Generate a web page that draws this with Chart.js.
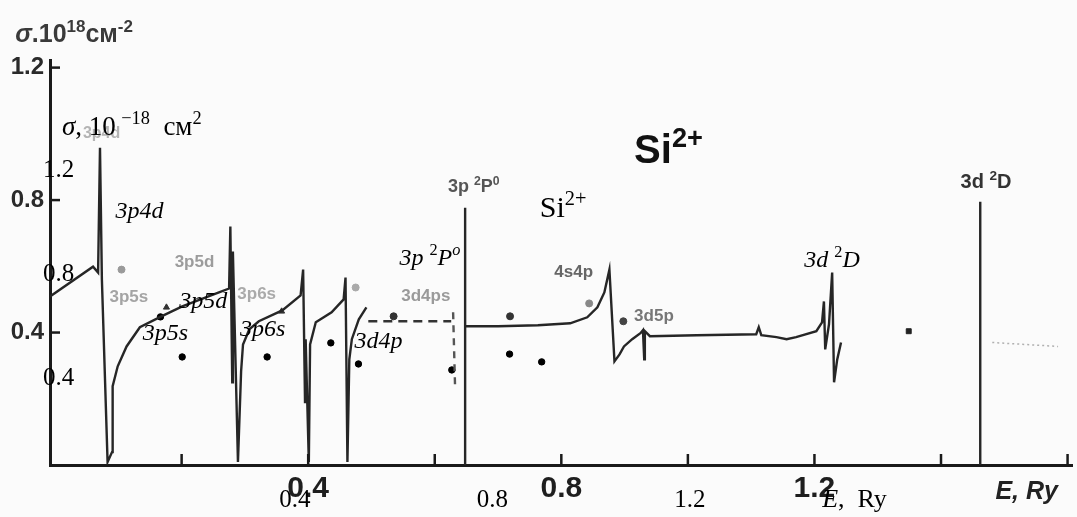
<!DOCTYPE html>
<html><head><meta charset="utf-8">
<script src="https://cdn.jsdelivr.net/npm/chart.js@4.4.0/dist/chart.umd.min.js"></script>
<style>html,body{margin:0;padding:0;background:#fbfbfb;}canvas{display:block}</style>
</head><body>
<canvas id="c" width="1077" height="517"></canvas>
<script>
// ---------- scanned spectrum: E (Ry) vs sigma (1e-18 cm^2) ----------
const curveE = [-0.008,0.060,0.068,0.071,0.074,0.083,0.090,0.091,0.099,0.113,0.134,0.168,0.201,0.259,0.275,0.277,0.280,0.281,0.289,0.294,0.297,0.307,0.322,0.359,0.388,0.392,0.395,0.396,0.401,0.403,0.412,0.437,0.456,0.459,0.462,0.465,0.469,0.480,0.492];
const curveSigma = [0.509,0.599,0.581,0.958,0.560,0.009,0.039,0.238,0.298,0.358,0.416,0.449,0.479,0.521,0.533,0.720,0.250,0.645,0.009,0.283,0.364,0.410,0.434,0.467,0.512,0.590,0.190,0.380,0.009,0.364,0.431,0.461,0.500,0.566,0.009,0.319,0.380,0.440,0.476];
const rightE = [0.648,0.700,0.763,0.814,0.841,0.857,0.868,0.876,0.884,0.892,0.899,0.912,0.925,0.929,0.931,0.932,0.940,1.014,1.108,1.112,1.116,1.140,1.156,1.171,1.203,1.212,1.215,1.217,1.223,1.228,1.231,1.236,1.242];
const rightSigma = [0.419,0.419,0.422,0.428,0.446,0.476,0.521,0.590,0.313,0.334,0.358,0.380,0.398,0.407,0.319,0.404,0.389,0.392,0.395,0.416,0.392,0.386,0.380,0.386,0.404,0.431,0.494,0.349,0.425,0.581,0.250,0.319,0.370];
const dashHE = [0.495,0.626];
const dashHSigma = [0.434,0.434];
const dashVE = [0.629,0.632];
const dashVSigma = [0.461,0.244];
const line3pE = [0.648,0.648];
const line3pSigma = [0.777,0];
const line3dE = [1.462,1.462];
const line3dSigma = [0.795,0];
const faintE = [1.481,1.585];
const faintSigma = [0.370,0.358];
const scanMarkE = [0.105,0.176,0.358,0.475,0.535,0.719,0.844,0.898,1.349];
const scanMarkSigma = [0.590,0.476,0.464,0.536,0.449,0.449,0.488,0.434,0.404];
const scanMarkColor = ['#9a9a9a','#333','#333','#aaa','#333','#333','#888','#444','#222'];
const scanMarkStyle = ['circle','triangle','triangle','circle','circle','circle','circle','circle','rect'];
// ---------- overlaid (second) coordinate system ----------
const dotE = [0.128,0.172,0.344,0.473,0.529,0.718,0.835,0.900];
const dotSigma = [0.635,0.481,0.481,0.535,0.454,0.431,0.492,0.462];
// ---------- ticks ----------
const xTickLabels = [0.4,0.8,1.2];
const yTickLabels = [0.4,0.8,1.2];
const xTickMarks = [0.2,0.4,0.6,0.8,1.0,1.2,1.4,1.6];
const yTickMarks = [0.4,0.8,1.2];
const overlayXTicks = [0.4,0.8,1.2];
const overlayYTicks = [0.4,0.8,1.2];

const scanLabels = [
  {runs:[['σ','i'],['.10',''],['18','s'],['см',''],['-2','s']], e:-0.063, s:1.277, size:25, color:'#3a3a3a'},
  {runs:[['3p4d','']], e:0.044, s:0.988, size:16, color:'#b4b4b4'},
  {runs:[['3p5d','']], e:0.189, s:0.599, size:17, color:'#9c9c9c'},
  {runs:[['3p5s','']], e:0.086, s:0.491, size:17, color:'#a4a4a4'},
  {runs:[['3p6s','']], e:0.288, s:0.500, size:17, color:'#aaaaaa'},
  {runs:[['3d4ps','']], e:0.547, s:0.494, size:17, color:'#9a9a9a'},
  {runs:[['3p ',''],['2','s'],['P',''],['0','s']], e:0.621, s:0.825, size:18, color:'#555'},
  {runs:[['4s4p','']], e:0.789, s:0.569, size:17, color:'#666'},
  {runs:[['3d5p','']], e:0.915, s:0.434, size:17, color:'#777'},
  {runs:[['3d ',''],['2','s'],['D','']], e:1.431, s:0.837, size:20, color:'#333'},
  {runs:[['Si',''],['2+','s']], e:0.915, s:0.913, size:40, color:'#111'},
  {runs:[['E, Ry','i']], e:1.486, s:-0.102, size:25, color:'#222'}
];
const overlayLabels = [
  {runs:[['σ','i'],[', 10',''],['\u2009',''],['−18','s'],['  см',''],['2','s']], e:-0.0715, s:1.335, size:27},
  {runs:[['3p4d','i']], e:0.037, s:1.015},
  {runs:[['3p5d','i']], e:0.166, s:0.669},
  {runs:[['3p5s','i']], e:0.092, s:0.546},
  {runs:[['3p6s','i']], e:0.289, s:0.562},
  {runs:[['3d4p','i']], e:0.521, s:0.515},
  {runs:[['3p ','i'],['2','s'],['P','i'],['o','si']], e:0.612, s:0.835},
  {runs:[['Si',''],['2+','s']], e:0.896, s:1.019, size:30},
  {runs:[['3d ','i'],['2','s'],['D','i']], e:1.432, s:0.827},
  {runs:[['E','i'],[',  Ry','']], e:1.468, s:-0.096, size:26}
];

const SANS = '"Liberation Sans", Arial, sans-serif';
const SERIF = '"Liberation Serif", "Times New Roman", serif';
const zip = (xs, ys) => xs.map((v, i) => ({x: v, y: ys[i]}));

function drawRuns(ctx, runs, x, y, size, family, weight, color) {
  let cx = x;
  ctx.fillStyle = color; ctx.textBaseline = 'alphabetic'; ctx.textAlign = 'left';
  for (const [t, f] of runs) {
    const sup = f.includes('s');
    const fs = sup ? size * 0.68 : size;
    ctx.font = (f.includes('i') ? 'italic ' : '') + weight + ' ' + fs + 'px ' + family;
    ctx.fillText(t, cx, sup ? y - size * 0.40 : y);
    cx += ctx.measureText(t).width;
  }
}

const decor = {
  id: 'decor',
  beforeDraw(chart) {
    const c = chart.ctx; c.save(); c.fillStyle = '#fbfbfb'; c.fillRect(0, 0, chart.width, chart.height); c.restore();
  },
  afterDraw(chart) {
    const {ctx, chartArea: a} = chart;
    const {x, y, x2, y2} = chart.scales;
    ctx.save();
    ctx.strokeStyle = '#1a1a1a'; ctx.lineWidth = 2.5;
    xTickMarks.forEach(v => { const p = x.getPixelForValue(v); ctx.beginPath(); ctx.moveTo(p, a.bottom); ctx.lineTo(p, a.bottom - 11); ctx.stroke(); });
    yTickMarks.forEach(v => { const p = y.getPixelForValue(v); ctx.beginPath(); ctx.moveTo(a.left, p); ctx.lineTo(a.left + 10, p); ctx.stroke(); });
    scanLabels.forEach(l => drawRuns(ctx, l.runs, x.getPixelForValue(l.e), y.getPixelForValue(l.s), l.size, SANS, 'bold', l.color));
    overlayLabels.forEach(l => drawRuns(ctx, l.runs, x2.getPixelForValue(l.e), y2.getPixelForValue(l.s), l.size || 24, SERIF, 'normal', '#000'));
    ctx.font = '25px ' + SERIF; ctx.fillStyle = '#000';
    ctx.textAlign = 'center'; ctx.textBaseline = 'alphabetic';
    overlayXTicks.forEach(v => ctx.fillText(v.toFixed(1), x2.getPixelForValue(v), a.bottom + 42));
    ctx.textAlign = 'left'; ctx.textBaseline = 'middle';
    overlayYTicks.forEach(v => ctx.fillText(v.toFixed(1), a.left - 7, y2.getPixelForValue(v)));
    ctx.restore();
  }
};

const lineDs = (data, opts) => Object.assign({data, showLine: true, pointRadius: 0, borderColor: '#262626', borderWidth: 2.4, tension: 0, xAxisID: 'x', yAxisID: 'y'}, opts || {});

new Chart(document.getElementById('c'), {
  type: 'scatter',
  data: {
    datasets: [
      lineDs(zip(curveE, curveSigma)),
      lineDs(zip(rightE, rightSigma)),
      lineDs(zip(line3pE, line3pSigma)),
      lineDs(zip(line3dE, line3dSigma)),
      lineDs(zip(dashHE, dashHSigma), {borderDash: [9, 6], borderColor: '#333'}),
      lineDs(zip(dashVE, dashVSigma), {borderDash: [7, 6], borderColor: '#555'}),
      lineDs(zip(faintE, faintSigma), {borderDash: [2, 3], borderColor: '#b0b0b0', borderWidth: 1.5}),
      {data: zip(scanMarkE, scanMarkSigma), showLine: false, pointRadius: 3.5, pointStyle: scanMarkStyle,
       pointBackgroundColor: scanMarkColor, pointBorderColor: scanMarkColor, xAxisID: 'x', yAxisID: 'y'},
      {data: zip(dotE, dotSigma), showLine: false, pointRadius: 3.2, pointBackgroundColor: '#000', pointBorderColor: '#000',
       xAxisID: 'x2', yAxisID: 'y2'}
    ]
  },
  options: {
    responsive: false, animation: false, devicePixelRatio: 1,
    layout: {padding: {top: 60, left: 0, right: 0, bottom: 0}},
    plugins: {legend: {display: false}, tooltip: {enabled: false}},
    scales: {
      x: {type: 'linear', position: 'bottom', min: -0.008, max: 1.607,
          grid: {display: false, drawTicks: false},
          border: {display: true, color: '#1a1a1a', width: 3},
          ticks: {font: {family: SANS, weight: 'bold', size: 30}, color: '#1e1e1e', padding: 6, maxRotation: 0,
                  callback: v => Number(v).toFixed(1)},
          afterBuildTicks: s => { s.ticks = xTickLabels.map(v => ({value: v})); },
          afterFit: s => { s.height = 52; }},
      y: {type: 'linear', position: 'left', min: 0, max: 1.223,
          grid: {display: false, drawTicks: false},
          border: {display: true, color: '#1a1a1a', width: 3},
          ticks: {font: {family: SANS, weight: 'bold', size: 24}, color: '#2a2a2a', padding: 6,
                  callback: v => Number(v).toFixed(1)},
          afterBuildTicks: s => { s.ticks = yTickLabels.map(v => ({value: v})); },
          afterFit: s => { s.width = 50; }},
      x2: {type: 'linear', position: 'bottom', display: false, min: -0.0957, max: 1.974},
      y2: {type: 'linear', position: 'left', display: false, min: 0.0654, max: 1.623}
    }
  },
  plugins: [decor]
});
</script>
</body></html>
